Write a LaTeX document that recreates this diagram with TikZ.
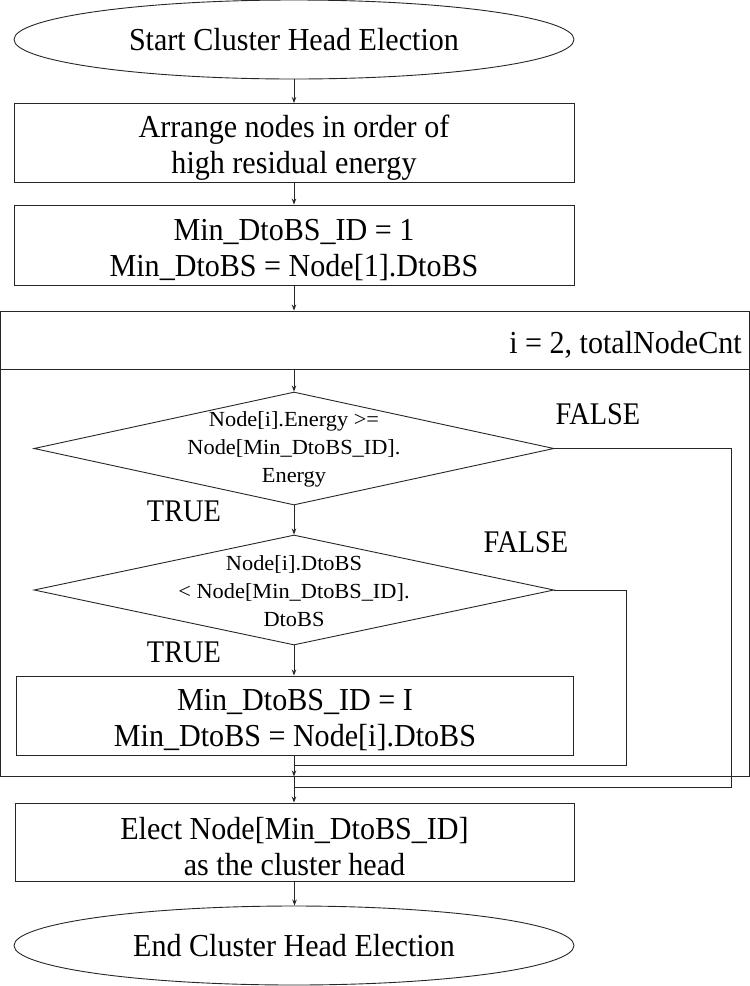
\documentclass[tikz,border=0pt]{standalone}
\usepackage{fontspec}
\setmainfont{Liberation Serif}
\newfontfamily\mainf[FakeStretch=0.94]{Liberation Serif}
\newfontfamily\lblf[FakeStretch=0.9]{Liberation Serif}
\newfontfamily\dtf[FakeStretch=1.04]{Liberation Serif}
\newcommand{\topstrut}{\rule{0pt}{31pt}}
\usetikzlibrary{shapes.geometric,arrows.meta}
\begin{document}
\begin{tikzpicture}[x=1pt,y=-1pt,
  ln/.style={line width=0.9pt, draw=black!85},
  arr/.style={ln, -{Stealth[length=6pt,width=4.5pt]}},
  term/.style={ln, ellipse, minimum width=560pt, minimum height=79pt, inner sep=0pt, font=\mainf\fontsize{32}{36}\selectfont},
  proc/.style={ln, rectangle, minimum width=560pt, minimum height=79pt, inner sep=0pt, align=center, font=\mainf\fontsize{32}{36}\selectfont},
  dec/.style={ln, diamond, minimum width=520pt, minimum height=113pt, inner sep=0pt},
  dtext/.style={align=center, inner sep=0pt, font=\dtf\fontsize{21.5}{28}\selectfont},
  lbl/.style={inner sep=0pt, font=\lblf\fontsize{31.5}{34}\selectfont},
  hdrtext/.style={inner sep=0pt, font=\mainf\fontsize{32}{36}\selectfont}
]
\useasboundingbox (0,0) rectangle (750,986);

\node[term] (start) at (294,39.5) {Start Cluster Head Election};
\node[proc] (box1) at (294,143) {\topstrut Arrange nodes in order of\\high residual energy};
\node[proc, minimum height=80pt] (box2) at (294,245) {\topstrut Min\_DtoBS\_ID = 1\\Min\_DtoBS = Node[1].DtoBS};

\node[ln, rectangle, minimum width=749pt, minimum height=58pt, inner sep=0pt] (hdr) at (375,340) {};
\node[hdrtext, anchor=base east] (hdrtxt) at (742,353) {i = 2, totalNodeCnt};
\node[ln, rectangle, minimum width=749pt, minimum height=407pt, inner sep=0pt] (body) at (375,572.5) {};

\node[dec] (d1) at (294,448.5) {};
\node[dtext] (d1t) at (294,449) {Node[i].Energy >=\\Node[Min\_DtoBS\_ID].\\Energy};
\node[dec, minimum height=110pt] (d2) at (294,590) {};
\node[dtext] (d2t) at (294,591) {Node[i].DtoBS\\< Node[Min\_DtoBS\_ID].\\DtoBS};

\node[proc, minimum width=557pt] (box3) at (295,715.5) {\topstrut Min\_DtoBS\_ID = I\\Min\_DtoBS = Node[i].DtoBS};
\node[proc, minimum width=559pt, minimum height=78pt] (box4) at (294.5,842) {\topstrut Elect Node[Min\_DtoBS\_ID]\\as the cluster head};
\node[term] (end) at (294,945.5) {End Cluster Head Election};

\node[lbl, anchor=base] (f1) at (598,424.5) {FALSE};
\node[lbl, anchor=base] (t1) at (184,521.5) {TRUE};
\node[lbl, anchor=base] (f2) at (526,552.5) {FALSE};
\node[lbl, anchor=base] (t2) at (184,662.5) {TRUE};

\coordinate (lb) at (d1.south |- body.south);
\coordinate (j2) at (294,765);
\coordinate (j1) at (294,787);

\draw[arr] (start.south) -- (box1.north);
\draw[arr] (box1.south) -- (box2.north);
\draw[arr] (box2.south) -- (box2.south |- hdr.north);
\draw[arr] (d1.north |- hdr.south) -- (d1.north);
\draw[arr] (d1.south) -- (d2.north);
\draw[arr] (d2.south) -- (d2.south |- box3.north);
\draw[ln] (d2.east) -| (626,765) -- (j2);
\draw[ln] (d1.east) -| (731,787) -- (j1);
\draw[arr] (d1.south |- box3.south) -- (lb);
\draw[arr] (lb) -- (lb |- box4.north);
\draw[arr] (box4.south) -- (box4.south |- end.north);
\end{tikzpicture}
\end{document}
